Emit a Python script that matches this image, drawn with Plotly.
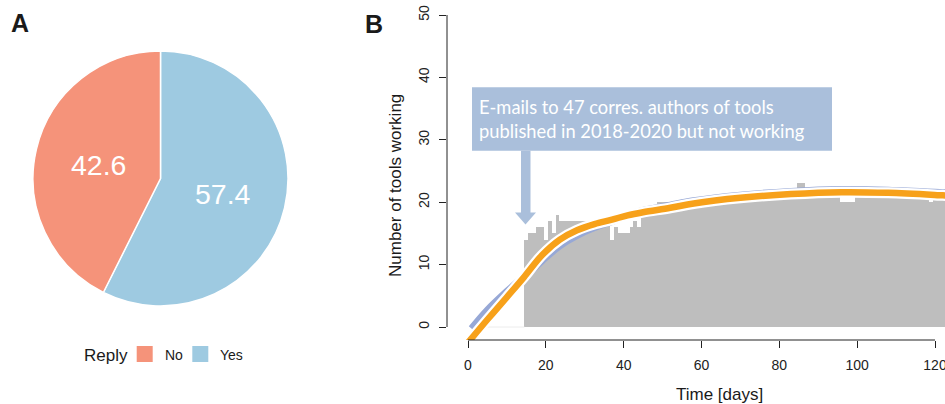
import plotly.graph_objects as go

W, H = 945, 404

# ---------------- data ----------------
reply_labels = ["No", "Yes"]
reply_values = [42.6, 57.4]
reply_colors = ["#F5937A", "#9ECAE1"]

days = list(range(1, 123))
tools_working = (
    [0] * 14 +                                   # days 1-14
    [14, 15, 15, 16, 16, 14, 17, 15, 18] +       # days 15-23
    [17] * 13 +                                  # days 24-36
    [14, 16, 15, 15, 15, 16, 17, 16] +           # days 37-44
    [18] * 4 +                                   # days 45-48
    [20] * 3 +                                   # days 49-51
    [19] * 6 +                                   # days 52-57
    [20] * 9 +                                   # days 58-66
    [21] * 18 +                                  # days 67-84
    [23] * 2 +                                   # days 85-86
    [21] * 9 +                                   # days 87-95
    [20] * 4 +                                   # days 96-99
    [21] * 19 +                                  # days 100-118
    [20] +                                       # day 119
    [21] * 3                                     # days 120-122
)

fit_days = [0, 5, 10, 14.4, 19, 23.6, 28, 32.5, 37, 41, 45, 52, 58, 70, 83, 96, 108, 122, 125]
fit_orange = [-2.5, 1.2, 4.8, 8.0, 11.5, 14.0, 15.5, 16.5, 17.2, 17.9, 18.4, 19.1, 19.8, 20.7, 21.3, 21.6, 21.5, 21.1, 21.0]

blue_days = [1, 5, 10, 14.4, 19, 23.6, 28, 32.5, 37, 41, 45, 52, 58, 70, 83, 96, 108, 122, 125]
fit_blue = [-0.3, 2.6, 5.6, 8.0, 10.7, 13.1, 14.75, 16.0, 17.0, 17.9, 18.6, 19.45, 20.15, 21.05, 21.65, 21.95, 21.85, 21.45, 21.35]

x_ticks = [0, 20, 40, 60, 80, 100, 120]
y_ticks = [0, 10, 20, 30, 40, 50]

note_text = "E-mails to 47 corres. authors of tools<br>published in 2018-2020 but not working"

# ---------------- helpers ----------------
def px(x):
    return x / W

def py(y):
    return 1 - y / H

FONT = "Liberation Sans, Arial, Helvetica, sans-serif"
NOTE_BLUE = "#AABFDB"

fig = go.Figure()

# ---------- Panel A: pie (Yes drawn clockwise from 12 o'clock, then No) ----------
cx, cy, r = 160.5, 178.5, 127.5
fig.add_trace(go.Pie(
    labels=reply_labels[::-1], values=reply_values[::-1],
    marker=dict(colors=reply_colors[::-1], line=dict(color="white", width=1.5)),
    direction="clockwise", rotation=0, sort=False,
    textinfo="none", hoverinfo="label+value", showlegend=False, automargin=False,
    domain=dict(x=[px(cx - r), px(cx + r)], y=[py(cy + r), py(cy - r)]),
))

# ---------- Panel B: bars + fits ----------
zero_days = [d for d, v in zip(days, tools_working) if v == 0]
fig.add_trace(go.Scatter(
    x=zero_days + [zero_days[-1] + 0.5], y=[0] * (len(zero_days) + 1),
    mode="lines", line=dict(color="#ECECEC", width=1), showlegend=False,
    hoverinfo="skip", xaxis="x", yaxis="y"))
fig.add_trace(go.Bar(
    x=days, y=tools_working, width=1,
    marker=dict(color="#BEBEBE", line=dict(width=0)),
    showlegend=False, xaxis="x", yaxis="y"))
fig.add_trace(go.Scatter(
    x=blue_days, y=fit_blue, mode="lines", line=dict(color="#97A8D6", width=8, shape="spline"),
    showlegend=False, hoverinfo="skip"))
fig.add_trace(go.Scatter(
    x=fit_days, y=fit_orange, mode="lines", line=dict(color="white", width=11, shape="spline"),
    showlegend=False, hoverinfo="skip"))
fig.add_trace(go.Scatter(
    x=fit_days, y=fit_orange, mode="lines", line=dict(color="#F7A11A", width=6.5, shape="spline"),
    showlegend=False))

# axis geometry
x_left, x0px, x120px, x_right = 447, 468, 935, 945
ppd = (x120px - x0px) / 120.0
y0px, y50px, y_bot, y_top = 327, 15, 340, 2
ppu = (y0px - y50px) / 50.0

def dx(p):  # pixel x -> data
    return (p - x0px) / ppd

def dy(p):  # pixel y -> data
    return (y0px - p) / ppu

fig.update_layout(
    xaxis=dict(domain=[px(x_left), 1.0], range=[dx(x_left), dx(x_right)],
               tickvals=x_ticks, ticks="outside", ticklen=7, tickwidth=1, tickcolor="#222",
               showline=False, showgrid=False, zeroline=False, automargin=False,
               ticklabeloverflow="allow", ticklabelstandoff=5,
               tickfont=dict(family=FONT, size=14, color="#222"), anchor="y"),
    yaxis=dict(domain=[py(y_bot), py(y_top)], range=[dy(y_bot), dy(y_top)],
               tickvals=y_ticks, ticks="outside", ticklen=7, tickwidth=1, tickcolor="#222",
               tickangle=-90, automargin=False, ticklabeloverflow="allow", ticklabelstandoff=4,
               showline=False, showgrid=False, zeroline=False,
               tickfont=dict(family=FONT, size=14, color="#222"), anchor="x"),
)

shapes = [
    # axis lines spanning the tick range only (R style)
    dict(type="line", xref="x", yref="paper", x0=0, x1=120, y0=py(y_bot), y1=py(y_bot),
         line=dict(color="#222", width=1)),
    dict(type="line", xref="paper", yref="y", x0=px(x_left), x1=px(x_left), y0=0, y1=50,
         line=dict(color="#222", width=1)),
    # note box
    dict(type="rect", xref="x", yref="y", x0=dx(472), x1=dx(832), y0=dy(150.7), y1=dy(87.3),
         fillcolor=NOTE_BLUE, line=dict(width=0), layer="above"),
    # arrow shaft
    dict(type="rect", xref="x", yref="y", x0=dx(521), x1=dx(530.5), y0=dy(213), y1=dy(150.7),
         fillcolor=NOTE_BLUE, line=dict(width=0), layer="above"),
    # arrow head
    dict(type="path", xref="x", yref="y",
         path=f"M {dx(515)} {dy(212.5)} L {dx(536)} {dy(212.5)} L {dx(525.5)} {dy(224.5)} Z",
         fillcolor=NOTE_BLUE, line=dict(width=0), layer="above"),
]

# manual legend for panel A
sw = 16
for lab, col, xs in zip(reply_labels, reply_colors, [136.7, 192.3]):
    shapes.append(dict(type="rect", xref="paper", yref="paper",
                       x0=px(xs), x1=px(xs + sw), y0=py(362), y1=py(346),
                       fillcolor=col, line=dict(width=0)))

annotations = [
    dict(text="<b>A</b>", x=px(19.5), y=py(22.5), xref="paper", yref="paper", showarrow=False,
         font=dict(family=FONT, size=25, color="#1a1a1a"), xanchor="center", yanchor="middle"),
    dict(text="<b>B</b>", x=px(374), y=py(23.5), xref="paper", yref="paper", showarrow=False,
         font=dict(family=FONT, size=25, color="#1a1a1a"), xanchor="center", yanchor="middle"),
    dict(text=f"{reply_values[0]}", x=px(98.3), y=py(165), xref="paper", yref="paper", showarrow=False,
         font=dict(family=FONT, size=28.5, color="white"), xanchor="center", yanchor="middle"),
    dict(text=f"{reply_values[1]}", x=px(222.8), y=py(193.7), xref="paper", yref="paper", showarrow=False,
         font=dict(family=FONT, size=28.5, color="white"), xanchor="center", yanchor="middle"),
    dict(text="Reply", x=px(82), y=py(355), xref="paper", yref="paper", showarrow=False,
         font=dict(family=FONT, size=17, color="#1a1a1a"), xanchor="left", yanchor="middle"),
    dict(text=reply_labels[0], x=px(163), y=py(355), xref="paper", yref="paper", showarrow=False,
         font=dict(family=FONT, size=14, color="#1a1a1a"), xanchor="left", yanchor="middle"),
    dict(text=reply_labels[1], x=px(218), y=py(355), xref="paper", yref="paper", showarrow=False,
         font=dict(family=FONT, size=14, color="#1a1a1a"), xanchor="left", yanchor="middle"),
    dict(text="Time [days]", x=px(719), y=py(394), xref="paper", yref="paper", showarrow=False,
         font=dict(family=FONT, size=17, color="#1a1a1a"), xanchor="center", yanchor="middle"),
    dict(text="Number of tools working", x=px(395), y=py(186), xref="paper", yref="paper",
         showarrow=False, textangle=-90,
         font=dict(family=FONT, size=17, color="#1a1a1a"), xanchor="center", yanchor="middle"),
    dict(text=note_text, x=px(477), y=py(119.5), xref="paper", yref="paper", showarrow=False,
         align="left", xanchor="left", yanchor="middle",
         font=dict(family="Lato, Open Sans, sans-serif", size=18.3, color="white")),
]

fig.update_layout(
    width=W, height=H, margin=dict(l=0, r=0, t=0, b=0, autoexpand=False),
    paper_bgcolor="white", plot_bgcolor="white",
    shapes=shapes, annotations=annotations, showlegend=False, bargap=0,
)

fig.write_html("out.html", config={"displayModeBar": False},
               post_script="document.body.style.margin='0';document.body.style.padding='0';")
